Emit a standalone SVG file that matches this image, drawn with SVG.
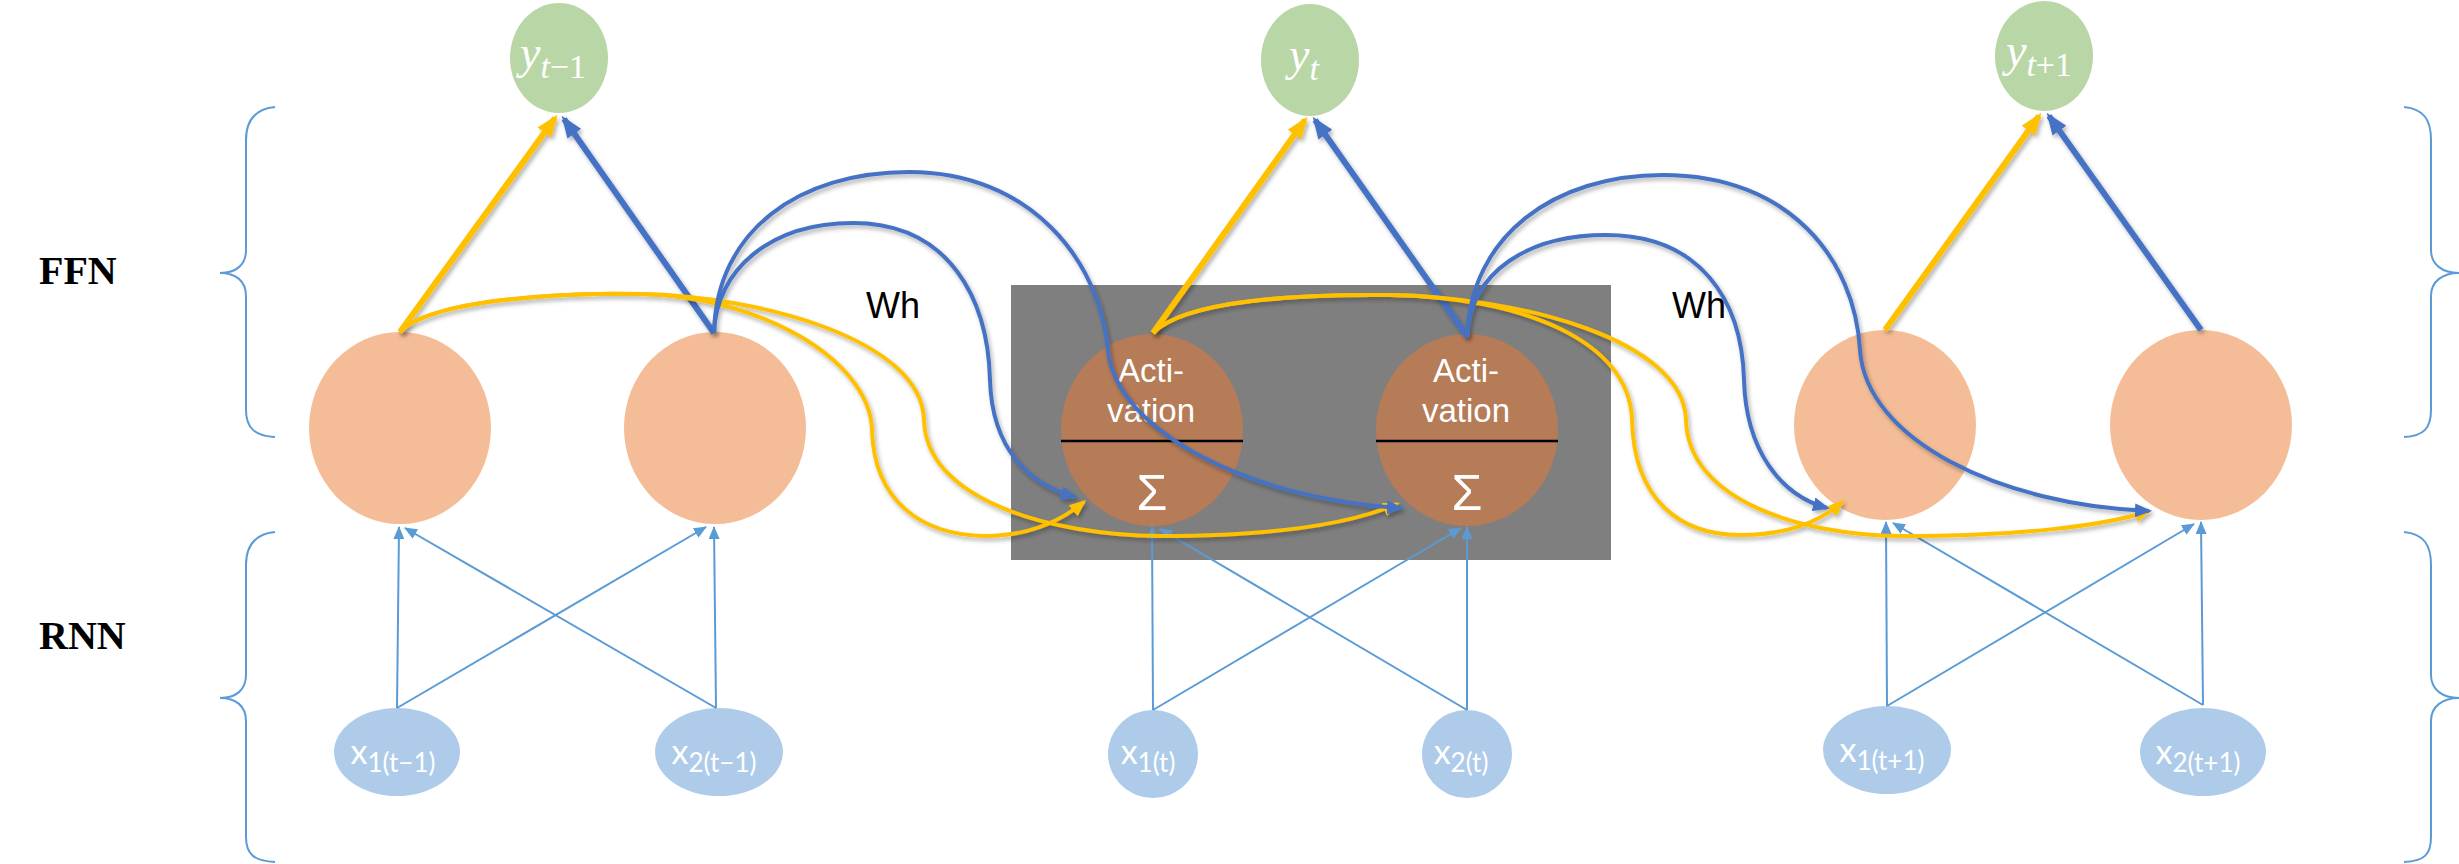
<svg xmlns="http://www.w3.org/2000/svg" width="2459" height="864" viewBox="0 0 2459 864">
<defs>
<style>
.out{fill:#B9D7A6}
.hid{fill:#F5BD97}
.act{fill:#B57C57}
.inp{fill:#AECCEA}
.brace{fill:none;stroke:#5B9BD5;stroke-width:2}
.thin{fill:none;stroke:#5B9BD5;stroke-width:2;marker-end:url(#aThin)}
.ym{fill:none;stroke:#FFC000;stroke-width:6;marker-end:url(#aYM)}
.bm{fill:none;stroke:#4472C4;stroke-width:6;marker-end:url(#aBM)}
.yc{fill:none;stroke:#FFC000;stroke-width:4;marker-end:url(#aYC)}
.bc{fill:none;stroke:#4472C4;stroke-width:4;marker-end:url(#aBC)}
.lbl{font-family:"Liberation Serif","Times New Roman",serif;font-weight:bold;font-size:40px;fill:#000}
.wh{font-family:"Liberation Sans",Arial,sans-serif;font-size:36px;fill:#000}
.at{font-family:"Liberation Sans",Arial,sans-serif;font-size:33px;fill:#fff;text-anchor:middle}
.sig{font-family:"Liberation Sans",Arial,sans-serif;font-size:50px;fill:#fff;text-anchor:middle}
.xt{font-family:Lato,"Noto Sans",sans-serif;font-size:34px;fill:#fff;text-anchor:middle}
.yt{font-family:"Liberation Serif","Times New Roman",serif;font-size:46px;fill:#fff;text-anchor:middle}
</style>
<filter id="sh" x="-10%" y="-10%" width="120%" height="130%">
<feDropShadow dx="2" dy="3" stdDeviation="2" flood-color="#000" flood-opacity="0.3"/>
</filter>
<marker id="aThin" markerUnits="userSpaceOnUse" markerWidth="13" markerHeight="11" viewBox="0 0 13 11" refX="12" refY="5.5" orient="auto"><path d="M0,0 L13,5.5 L0,11 z" fill="#5B9BD5"/></marker>
<marker id="aYM" markerUnits="userSpaceOnUse" markerWidth="22" markerHeight="17" viewBox="0 0 22 17" refX="18" refY="8.5" orient="auto"><path d="M0,0 L22,8.5 L0,17 z" fill="#FFC000"/></marker>
<marker id="aBM" markerUnits="userSpaceOnUse" markerWidth="22" markerHeight="17" viewBox="0 0 22 17" refX="18" refY="8.5" orient="auto"><path d="M0,0 L22,8.5 L0,17 z" fill="#4472C4"/></marker>
<marker id="aYC" markerUnits="userSpaceOnUse" markerWidth="17" markerHeight="14" viewBox="0 0 17 14" refX="14" refY="7" orient="auto"><path d="M0,0 L17,7 L0,14 z" fill="#FFC000"/></marker>
<marker id="aBC" markerUnits="userSpaceOnUse" markerWidth="17" markerHeight="14" viewBox="0 0 17 14" refX="14" refY="7" orient="auto"><path d="M0,0 L17,7 L0,14 z" fill="#4472C4"/></marker>
</defs>
<rect width="2459" height="864" fill="#fff"/>

<g id="braces">
<path class="brace" d="M275,107 C255,109 246,120 246,140 L246,250 C246,265 236,273 220,273 C236,273 246,281 246,296 L246,410 C246,428 255,436 275,437"/>
<path class="brace" d="M275,532 C255,534 246,545 246,565 L246,675 C246,690 236,698 220,698 C236,698 246,706 246,721 L246,837 C246,855 255,861 275,862"/>
<path class="brace" d="M2404,107 C2424,109 2431,120 2431,140 L2431,250 C2431,265 2443,273 2459,273 C2443,273 2431,281 2431,296 L2431,410 C2431,428 2424,436 2404,437"/>
<path class="brace" d="M2404,532 C2424,534 2431,545 2431,565 L2431,675 C2431,690 2443,698 2459,698 C2443,698 2431,706 2431,721 L2431,837 C2431,855 2424,861 2404,862"/>
</g>

<g id="labels">
<text class="lbl" x="39" y="284">FFN</text>
<text class="lbl" x="39" y="649">RNN</text>
<text class="wh" x="866" y="318">Wh</text>
<text class="wh" x="1672" y="318">Wh</text>
</g>

<g id="highlight">
<rect x="1011" y="285" width="600" height="275" fill="#7F7F7F"/>
</g>

<g id="y_t-1"><ellipse class="out" cx="559" cy="58" rx="49" ry="55"/><text class="yt" x="553" y="68"><tspan font-style="italic">y</tspan><tspan dy="10" font-size="34"><tspan font-style="italic">t</tspan>−1</tspan></text></g>
<g id="y_t"><ellipse class="out" cx="1310" cy="60" rx="49" ry="56"/><text class="yt" x="1304" y="70"><tspan font-style="italic">y</tspan><tspan dy="10" font-size="34" font-style="italic">t</tspan></text></g>
<g id="y_t+1"><ellipse class="out" cx="2044" cy="56" rx="49" ry="55"/><text class="yt" x="2039" y="66"><tspan font-style="italic">y</tspan><tspan dy="10" font-size="34"><tspan font-style="italic">t</tspan>+1</tspan></text></g>

<g id="h1_t-1"><ellipse class="hid" cx="400" cy="428" rx="91" ry="96"/></g>
<g id="h2_t-1"><ellipse class="hid" cx="715" cy="428" rx="91" ry="96"/></g>
<g id="h1_t"><ellipse class="act" cx="1152" cy="430" rx="91" ry="96"/><line x1="1061" y1="441" x2="1243" y2="441" stroke="#000" stroke-width="2.5"/><text class="at" x="1151" y="382">Acti-</text><text class="at" x="1151" y="422">vation</text><text class="sig" x="1152" y="510">Σ</text></g>
<g id="h2_t"><ellipse class="act" cx="1467" cy="430" rx="91" ry="96"/><line x1="1376" y1="441" x2="1558" y2="441" stroke="#000" stroke-width="2.5"/><text class="at" x="1466" y="382">Acti-</text><text class="at" x="1466" y="422">vation</text><text class="sig" x="1467" y="510">Σ</text></g>
<g id="h1_t+1"><ellipse class="hid" cx="1885" cy="425" rx="91" ry="95"/></g>
<g id="h2_t+1"><ellipse class="hid" cx="2201" cy="425" rx="91" ry="95"/></g>

<g id="x1_t-1"><ellipse class="inp" cx="397" cy="752" rx="63" ry="44"/><text class="xt" x="393" y="764">x<tspan dy="8" font-size="26">1(t−1)</tspan></text></g>
<g id="x2_t-1"><ellipse class="inp" cx="719" cy="752" rx="64" ry="44"/><text class="xt" x="714" y="764">x<tspan dy="8" font-size="26">2(t−1)</tspan></text></g>
<g id="x1_t"><ellipse class="inp" cx="1153" cy="754" rx="45" ry="44"/><text class="xt" x="1148" y="764">x<tspan dy="8" font-size="26">1(t)</tspan></text></g>
<g id="x2_t"><ellipse class="inp" cx="1467" cy="754" rx="45" ry="44"/><text class="xt" x="1461" y="764">x<tspan dy="8" font-size="26">2(t)</tspan></text></g>
<g id="x1_t+1"><ellipse class="inp" cx="1887" cy="750" rx="64" ry="44"/><text class="xt" x="1882" y="762">x<tspan dy="8" font-size="26">1(t+1)</tspan></text></g>
<g id="x2_t+1"><ellipse class="inp" cx="2203" cy="752" rx="63" ry="44"/><text class="xt" x="2198" y="764">x<tspan dy="8" font-size="26">2(t+1)</tspan></text></g>

<g id="connectors">
<g id="inputs">
<path class="thin" d="M397,708 L399,527"/>
<path class="thin" d="M397,708 L706,527"/>
<path class="thin" d="M716,708 L714,527"/>
<path class="thin" d="M716,708 L405,528"/>
<path class="thin" d="M1153,710 L1152,527"/>
<path class="thin" d="M1153,710 L1461,528"/>
<path class="thin" d="M1467,710 L1467,527"/>
<path class="thin" d="M1467,710 L1160,529"/>
<path class="thin" d="M1887,706 L1886,522"/>
<path class="thin" d="M1887,706 L2194,524"/>
<path class="thin" d="M2203,705 L2201,522"/>
<path class="thin" d="M2203,705 L1893,523"/>
</g>
<g id="outputs" filter="url(#sh)">
<path class="ym" d="M400,332 L555,118"/>
<path class="bm" d="M714,333 L564,119"/>
<path class="ym" d="M1153,333 L1305,120"/>
<path class="bm" d="M1467,336 L1315,120"/>
<path class="ym" d="M1885,330 L2039,116"/>
<path class="bm" d="M2201,330 L2049,116"/>
</g>
<g id="recurrent" filter="url(#sh)">
<path class="yc" d="M400,332 C430,300 560,292 640,294 C760,296 870,360 872,430 C874,500 920,535 985,536 C1030,536 1062,520 1084,502"/>
<path class="yc" d="M400,332 C430,300 560,292 640,294 C760,296 922,340 924,420 C926,500 1050,535 1160,536 C1280,536 1355,522 1397,504"/>
<path class="bc" d="M714,333 C716,270 770,223 853,223 C950,223 988,300 990,380 C992,450 1030,485 1075,497"/>
<path class="bc" d="M714,333 C716,230 800,172 909,172 C1030,172 1100,260 1108,350 C1115,430 1250,500 1401,508"/>
<path class="yc" d="M1153,333 C1185,300 1300,294 1390,295 C1520,297 1630,340 1632,420 C1634,500 1680,535 1740,535 C1790,535 1822,520 1842,502"/>
<path class="yc" d="M1153,333 C1185,300 1300,294 1390,295 C1520,297 1684,340 1686,420 C1688,500 1800,535 1900,536 C2020,536 2105,526 2149,511"/>
<path class="bc" d="M1467,338 C1470,270 1530,235 1606,235 C1700,235 1742,300 1744,380 C1746,450 1780,495 1827,508"/>
<path class="bc" d="M1467,338 C1470,235 1555,175 1663,175 C1790,175 1855,260 1860,350 C1866,440 2000,505 2149,511"/>
</g>
</g>
</svg>
